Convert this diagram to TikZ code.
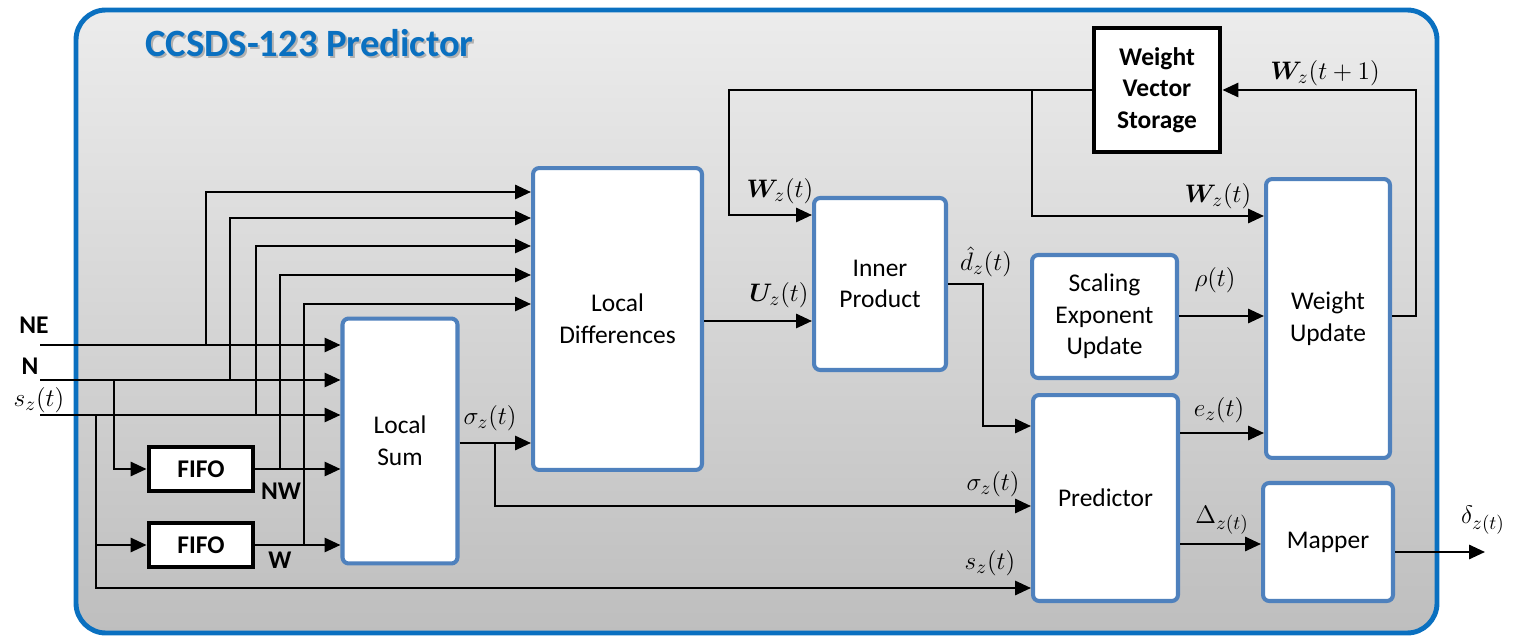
\documentclass[tikz,border=0pt]{standalone}
\usepackage{amsmath,bm}
\usepackage{fontspec}
\setmainfont{Carlito}
\usetikzlibrary{arrows.meta}
\definecolor{frameblue}{RGB}{10,112,192}
\definecolor{boxblue}{RGB}{79,129,189}
\definecolor{bgtop}{RGB}{236,236,236}
\definecolor{bgbot}{RGB}{190,190,190}

\begin{document}
\begin{tikzpicture}[x=0.02cm, y=-0.02cm,
	every node/.style={font=\fontsize{14.5}{18}\selectfont, inner sep=0pt},
	block/.style={draw=boxblue, line width=2.3pt, fill=white, rounded corners=3.5pt, align=center},
	store/.style={draw=black, line width=2.8pt, fill=white, align=center, font=\fontsize{14.5}{18}\selectfont\bfseries},
	port/.style={font=\fontsize{14.5}{18}\selectfont\bfseries},
	mlab/.style={font=\fontsize{15.5}{18}\selectfont},
	sig/.style={line width=1.35pt, -{Triangle[length=9pt,width=8pt]}}]
	\useasboundingbox (0,0) rectangle (1514,638);
	% frame
	\draw[frameblue, line width=2.8pt, rounded corners=17pt, top color=bgtop, bottom color=bgbot] (76,10) rectangle (1437,633);
	\node[anchor=base west, text=black!45, opacity=0.6, font=\fontsize{22}{26}\selectfont\bfseries] at (147,59) {CCSDS-123 Predictor};
	\node[anchor=base west, text=frameblue, font=\fontsize{22}{26}\selectfont\bfseries] (title) at (145,57) {CCSDS-123 Predictor};
	% blocks
	\node[block, minimum width=2.3cm, minimum height=4.9cm] (lsum) at (400,441) {Local\\Sum};
	\node[block, minimum width=3.38cm, minimum height=6.04cm] (ldiff) at (617.5,319) {Local\\Differences};
	\node[block, minimum width=2.64cm, minimum height=3.44cm] (inner) at (880,284) {Inner\\Product};
	\node[block, minimum width=2.9cm, minimum height=2.46cm] (scale) at (1104.5,316.5) {Scaling\\Exponent\\Update};
	\node[block, minimum width=2.48cm, minimum height=5.58cm] (wupd) at (1328,318.5) {Weight\\Update};
	\node[block, minimum width=2.9cm, minimum height=4.12cm] (pred) at (1105.5,498) {Predictor};
	\node[block, minimum width=2.6cm, minimum height=2.36cm] (mapper) at (1328,542) {Mapper};
	\node[store, minimum width=2.52cm, minimum height=2.48cm] (wvs) at (1157,90) {Weight\\Vector\\Storage};
	\node[store, minimum width=2.08cm, minimum height=0.88cm] (fifoa) at (201,469) {FIFO};
	\node[store, minimum width=2.08cm, minimum height=0.88cm] (fifob) at (201,545) {FIFO};
	% inputs
	\coordinate (ne) at (40,345);
	\coordinate (n) at (40,380);
	\coordinate (s) at (40,415);
	\coordinate (sgm) at (495,443);
	\coordinate (out) at (1485,552);
	\node[port] (nelab) at (34,325) {NE};
	\node[port] (nlab) at (30,366) {N};
	\node[mlab] (slab) at (39,400) {$s_z(t)$};
	\node[port] (nwlab) at (281,491) {NW};
	\node[port] (wlab) at (280,560) {W};
	\draw[sig] (ne) -- (ne -| lsum.west);
	\draw[sig] (n) -- (n -| lsum.west);
	\draw[sig] (s) -- (s -| lsum.west);
	\draw[sig] (fifoa.east) -- (fifoa.east -| lsum.west);
	\draw[sig] (fifob.east) -- (fifob.east -| lsum.west);
	\draw[sig] (n -| 114,0) |- (fifoa.west);
	\draw[sig] (s -| 96,0) |- (fifob.west);
	\draw[sig] (s -| 96,0) |- (pred.west |- 0,588);
	% neighbours to local differences
	\draw[sig] (ne -| 206,0) |- (ldiff.west |- 0,192);
	\draw[sig] (n -| 230,0) |- (ldiff.west |- 0,218);
	\draw[sig] (s -| 256,0) |- (ldiff.west |- 0,246);
	\draw[sig] (fifoa.east -| 280,0) |- (ldiff.west |- 0,275);
	\draw[sig] (fifob.east -| 304,0) |- (ldiff.west |- 0,304);
	% local sum
	\draw[sig] (lsum.east |- sgm) -- (ldiff.west |- sgm);
	\draw[sig] (sgm) |- (pred.west |- 0,506);
	\node[mlab] at (490,418) {$\sigma_z(t)$};
	\node[mlab] at (993,484) {$\sigma_z(t)$};
	\node[mlab] at (990,563) {$s_z(t)$};
	% inner product
	\draw[sig] (ldiff.east |- 0,321) -- (inner.west |- 0,321);
	\draw[sig] (wvs.west) -| (729,215) -- (inner.west |- 0,215);
	\draw[sig] (inner.east |- 0,284) -| (983,426) -- (pred.west |- 0,426);
	\node[mlab] at (780,191) {$\bm{W}_z(t)$};
	\node[mlab] at (779,295) {$\bm{U}_z(t)$};
	\node[mlab] at (986,262) {$\hat{d}_z(t)$};
	% weights
	\draw[sig] (wvs.west -| 1032,0) |- (wupd.west |- 0,216);
	\draw[sig] (wupd.east |- 0,316) -| (wvs.east -| 1416,0) -- (wvs.east);
	\node[mlab] at (1218,196) {$\bm{W}_z(t)$};
	\node[mlab] at (1325,73) {$\bm{W}_z(t+1)$};
	\draw[sig] (scale.east |- 0,316) -- (wupd.west |- 0,316);
	\node[mlab] at (1215,280) {$\rho(t)$};
	% predictor outputs
	\draw[sig] (pred.east |- 0,433) -- (wupd.west |- 0,433);
	\node[mlab] at (1219,410) {$e_z(t)$};
	\draw[sig] (pred.east |- 0,544) -- (mapper.west |- 0,544);
	\node[mlab] at (1222,520) {$\Delta_{z(t)}$};
	\draw[sig] (mapper.east |- out) -- (out);
	\node[mlab] at (1483,520) {$\delta_{z(t)}$};
\end{tikzpicture}
\end{document}
